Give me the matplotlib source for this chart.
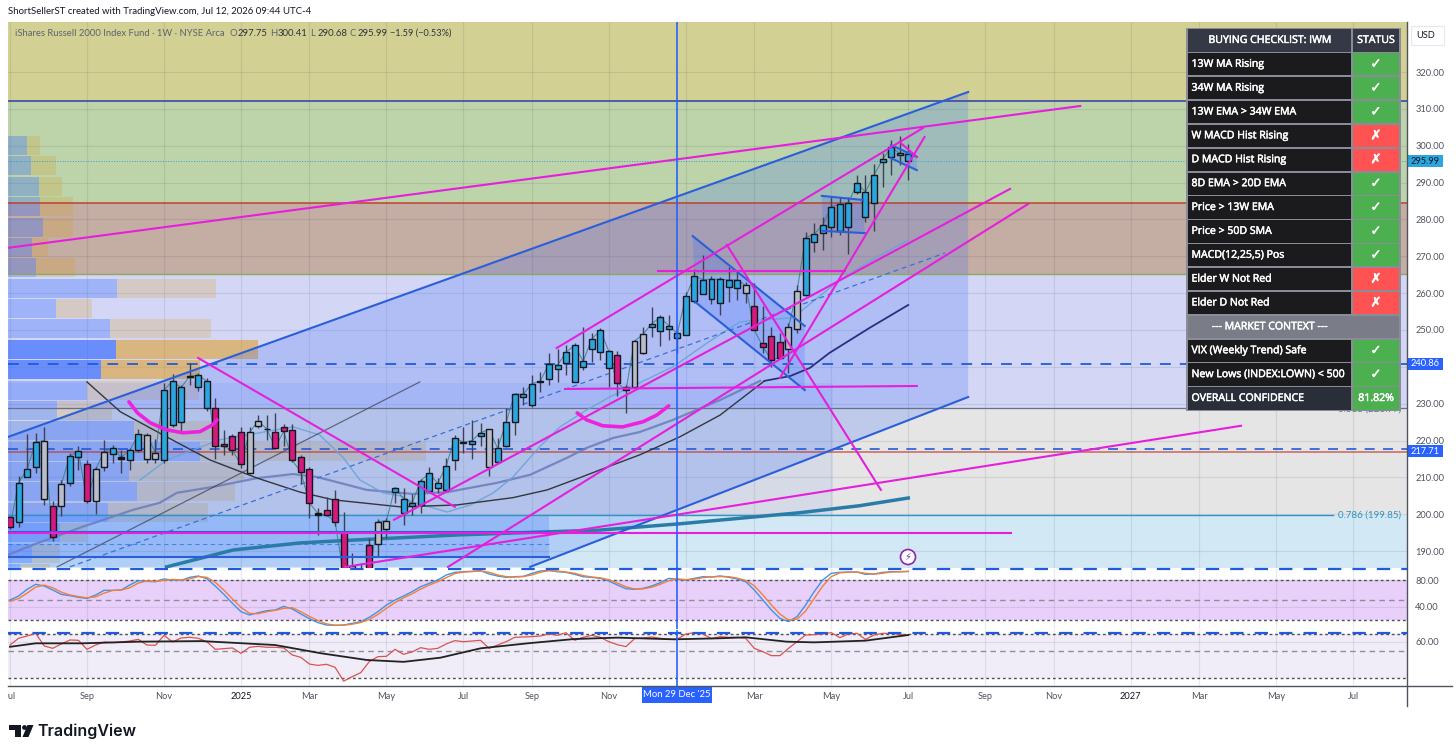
import numpy as np
import matplotlib
matplotlib.use("Agg")
import matplotlib.pyplot as plt
import matplotlib.patheffects as pe
from matplotlib.patches import Polygon, Rectangle, Circle
from matplotlib.ticker import NullLocator

# ---------- weekly candles (ETF price) ----------
body_top = [199.2,208.6,212.2,219.6,220,202.1,208.2,215.8,217.1,213.5,212.2,216.9,217.9,215.5,217.3,221.7,221.4,216.7,233.7,236.1,
            234.4,237.4,237.8,236.1,228.8,219.1,221.1,222.2,222.2,225.3,223.2,222.4,223.8,222.8,215.5,212.2,200.2,201.2,204.2,195.1,
            186,185,191.7,198,198.2,207.2,204.2,203,209.1,211.1,208.4,213.2,220.8,219.5,220,222.1,223,217.9,225,232.6,
            232.6,235.4,236.1,240.9,240.4,244,245.8,241.5,247.5,249.9,244.2,243.1,234.4,247,248.8,251.7,253.4,251.2,249.1,259.1,
            264.6,263.7,263.8,263.8,263.6,263.6,262.1,256.6,246.4,248.5,246.7,250.7,260.6,275.1,276,278.5,283.5,284.1,284.4,289.8,
            287.5,292.1,296.3,299.6,298,297.75]
body_bot = [196.6,198,210.2,212.9,204.2,193.7,202.3,208.4,215.4,203.5,203.7,212.9,216.3,215.1,214.7,217.4,214.9,214.9,214.6,224.1,
            225,237.2,234.4,228.8,218.6,218.4,217.3,213.5,211.3,224,223,218.1,222.5,214.6,211.4,203,199.8,199.7,198,183.5,
            183.5,183.6,184,191.8,196,206.1,200.3,202.3,202.6,206.4,207,206.6,214.7,219.4,219,221.2,212.8,214.3,218.4,225,
            231.7,229.6,236,236.6,239.5,241,236,239.9,244.8,244.1,239.8,235.7,233.6,234.4,243.7,250.7,249.6,250.3,247.7,248.7,
            258,259.9,258.3,257.4,261.8,261.3,260.1,250,245.5,241.9,242.5,244.8,250.3,259.5,273.9,276.2,277.9,276.9,277.9,287.5,
            280.8,284.6,295.5,297,297.5,295.99]
highs = [199.5,210.4,221.9,222,223.8,203.7,209.3,216.5,218.4,214.6,212.9,220.2,218.8,217.4,217.9,223,222,220.3,235.5,238.1,
         235.1,241,238.2,236.9,231.5,222.9,221.8,223.6,223.6,227,227,227.4,224.5,224.5,216.1,212.9,201.6,204.8,206.6,200.7,
         189.5,186.7,193.5,198.6,198.9,207.5,207,205.5,209.5,212.9,209.7,215.2,221.5,223.8,225.6,224.7,223,220.6,228.8,233,
         234.6,237.8,238.7,243.7,244.8,245.9,246.6,250.7,249.1,250.5,244.6,244.4,235,247.3,250.7,256.2,254.1,254.1,250,260.4,
         266.5,270.4,264.7,264.5,267.2,265.8,263.1,262.7,256.5,250.9,249.1,251.8,262.2,276.7,279,280.7,286.2,286.2,286.2,292.1,
         292.1,295,298,301.6,302.6,300.41]
lows = [196,196.5,210,211.1,202.5,192.6,199.5,207.7,212,203,200.1,211.6,213.8,211.1,212,217,213.8,213.8,214,223.8,
        222,235,233.5,227.9,214.9,216.1,216.1,212.5,211,223.3,220.2,217.6,218.5,214.3,208.2,198.9,194.4,199.5,196.8,183,
        183,183,183.5,188.5,193.5,203,197.1,199.8,200.3,205.9,205.7,205.9,212,216.5,214.9,218.4,210.4,214.2,218.2,221.5,
        229.7,229.2,233.3,235.1,236,237.8,236,239.2,241.4,241.9,234.6,232,227.4,234.2,243.5,248.2,245.7,247.3,243.7,248.6,
        257.4,259.8,257,254.1,257.7,258.1,257.2,250,243.7,240,242,238.3,249.1,259.2,271.3,271.7,275.3,275.8,270.5,286.9,
        279.4,276.9,288.9,292.1,294.8,290.68]
impulse = list("mbbbgmgbbm" "ggbkbbggbb" "bkbbmmmmgg" "kmmmmmkmmm" "gmmggbbbbb"
               "bbbkbbgbbb" "bbkbbbbbbb" "bmmggbbbbb" "bbbbbbgmmm" "mggbbbbbbb" "bbbbbb")

# ---------- moving averages: (bar, price) readings ----------
ma_black_x = [9,12.9,18.3,23.4,28.9,33.9,37.8,45.6,52.2,58.8,62.8,66.6,70.5,73.6,78.3,83,88.2]
ma_black_y = [235.9,227.8,221,214.7,209.8,206,203.9,202,202.5,204.5,206.6,209.9,213.4,216.1,221,226.9,236.2]
ma_navy_x = [88.2,91.2,93.5,95.8,100.5,105]
ma_navy_y = [236.2,237.5,239.7,243.8,250.6,256.8]
ma_slow_x = [-0.2,2.7,8.5,14.4,17.5,19.5,23.7,28.9,33.1,35.9,41.7,45.6,47.1,51.1,56.9,60.8,65.1,67.4,70.5,73.6,77.5,83,87.7]
ma_slow_y = [189,191.7,196.6,201.2,203.1,205.8,207.4,209.8,210.9,210.1,206.6,205.8,205.5,206,208.5,210.7,215.3,218,220.7,222.3,225.6,231,236.2]
ma_fast_x = [15.2,18.3,24.5,33.1,36.2,38.9,40.9,43.6,45.6,47.1,51.1,53.8,56.5,58.8,61.9,64.3,67.4,70.1,77.5,81.5,85.3,87.7,91.5,97,101.1,105]
ma_fast_y = [209.3,214.7,220.2,223.7,221.5,215.5,209.3,205.8,205,203.3,200.6,202.5,205.8,210.1,218.3,223.7,228.3,231.8,240,246.5,252.2,252.7,253.3,263.6,269.5,274.4]
ma_long_x = [18.3,26.1,33.9,38.6,52.6,69,78.3,92.3,99.3,105]
ma_long_y = [185.7,190.3,192.2,192.8,194.4,195.7,197.4,200.4,202.3,204.4]

# ---------- hand drawings: ((bar, price), (bar, price)) ----------
magenta_lines = [((-0.2,272.3),(125.1,310.8)), ((63.9,245.1),(106.7,304.8)), ((83.8,273.1),(101.8,206.6)),
                 ((22,242.4),(52,202)), ((44.9,198.5),(116.9,288.3)), ((51.2,185.7),(119,284.2)),
                 ((90,237),(106.9,302.4)), ((75.7,266),(97.6,266)), ((64.9,234),(106,234.8)),
                 ((39.2,185.7),(143.9,224)), ((-0.2,194.9),(117,194.9)), ((104,301),(106,297))]
blue_lines = [((-0.2,221),(112,314.6)), ((60.8,185.7),(112,231.8)), ((-0.2,195.2),(63,195.2)), ((-0.2,188.4),(63,188.4)),
              ((79.8,275.5),(92.9,251.1)), ((80.1,257.6),(92.9,233.7)), ((94.9,286.4),(99.7,285.3)), ((95,276.9),(99.9,276.3)),
              ((103,300.2),(106,297)), ((103,296.6),(106,293.4))]
channel_poly = [(-0.2,221),(112,314.6),(112,231.8),(60.8,185.7),(-0.2,185.7)]
flag_polys = [[(79.8,275.5),(92.9,251.1),(92.9,233.7),(80.1,257.6)],
              [(94.9,286.4),(99.7,285.3),(99.9,276.3),(95,276.9)],
              [(103,300.2),(106,297),(106,293.4),(103,296.6)]]
arc1_x = [13.9,14.9,16.4,18.3,20.2,22.2,23.7,24.2]
arc1_y = [230.5,227.5,224.8,222.9,222.1,222.4,224.3,225.6]
arc2_x = [66.3,67.4,69.3,71.6,74,75.6,77]
arc2_y = [227.5,225.6,224,223.7,225.1,226.9,229.4]
grey_channel = ((5.5,185.7),(47.9,235.9))
dashed_mid = ((7,185.7),(109.3,270.9))

# ---------- price zones and levels ----------
zone_edges = [333.6,312.1,284.5,265.2,228.8,199.85,185.4]
zone_colors = ["#d3d093","#bdd3aa","#c4ada3","#d3d6f5","#e5e5e5","#d2e9f5"]
price_ticks = [320,310,300,290,280,270,260,250,240,230,220,210,200,190]

# ---------- volume profile ----------
vp_up = [19,23,31,32,35,24,28,109,48,102,108,93,79,49,126,192,121,129,100,52,24,12]
vp_down = [13,25,23,33,30,16,39,99,36,101,142,99,112,55,86,226,116,98,100,27,28,30]
vp_strong = [10,11]

# ---------- oscillators ----------
stoch_k = [50.3,56.3,66.1,73.6,71.1,65.2,58.7,56.8,54.3,52.8,57.7,64.7,64.7,65.2,72.6,79,78,77.5,81.5,80,79.5,83.9,85.9,82,71.1,58.7,45.4,33.1,28.1,31.6,34.5,35.5,41,37,29.6,22.7,16.8,13.3,12.8,13.3,15.8,18.2,24.7,33.1,42.9,50.3,56.3,62.7,70.1,75,80,87.4,91.3,92.3,92.8,93.8,88.9,85.9,83.9,84.9,85.4,89.8,93.3,94.3,92.3,91.3,88.4,84.9,83.9,82.4,78.5,72.6,67.1,66.1,67.6,71.1,76,82.4,81,80,82.4,84.9,84.4,86,84,81.5,77.5,65.2,50.4,35.5,23.2,18.3,25.7,42.9,62.7,80,89.9,91.3,91.8,91.8,88.4,88.9,91.3,92.3,92.3,92.8]
stoch_d = [48.5,52.5,60.5,69.5,72.5,68.5,62,57.8,55.5,53.6,55,60.5,64.5,65,68.5,75.5,78.5,77.8,79.5,80.8,79.8,81.5,85,84,76.5,65,52,39.5,30.5,30,33,35,38,39,33,26,19.8,15,13,13,14.5,17,21.5,29,38,46.5,53.5,59.5,66.5,72.5,77.5,83.5,89.5,91.8,92.5,93.3,91.5,87.5,85,84.4,85.1,87.5,91.5,93.8,93.3,91.8,90,86.5,84.5,83.2,80.5,75.5,70,66.6,66.8,69.3,73.5,79,81.7,80.5,81.2,83.5,84.6,85.2,85,82.8,79.5,71.5,58,43,29.5,20.8,22,34,52.5,71,85,90.6,91.5,91.8,90,88.6,90,91.8,92.3,92.5]
rsi = [56.5,64.4,67.3,70.9,55.5,53,57.7,62.3,61.9,52,56.5,59.9,59.2,59.9,61.1,63.1,56.5,56.2,68.2,59.9,64.8,65.6,64.4,60.3,52,52.7,53.4,48.1,54.1,55.1,54.1,54.1,53.4,46.6,44.5,39.1,38.1,38.9,36.7,28.1,30.6,33.1,41,45.1,45.4,52,47.2,49.4,53.7,52,53,57.7,61.5,60.3,61.1,61.9,53,56.5,60.3,65.6,66,66.5,67.3,70,68.2,71.8,61.9,65.6,68.2,65.6,60.3,56.9,54.8,63.9,64.8,66,64.4,63.1,63.1,70,71.8,70,63.9,66.5,65.6,65.6,64.4,53,49.7,46,46,53,60.3,68.6,69.1,70,71.8,65.2,70,70.9,63.1,68.6,70.9,70.9,69.5,68.2]
rsi_ma_x = [0,3,8.5,15,22.4,31,36.4,41.7,46,50.3,55,60.5,66,71,77.6,83,86,90.8,94,100,105]
rsi_ma_y = [54.6,58.4,58.4,60.3,61,56.5,48.1,42.3,40.8,44.2,53,58.4,63.5,65.2,63.1,64.4,65.6,60.3,59.5,61.5,68.6]

# ---------- time axis ----------
tick_bars = [0,9,18,27,35,44,53,61,70,79,87,96,105,114,122,131,139,148,157]
tick_text = ["Jul","Sep","Nov","2025","Mar","May","Jul","Sep","Nov","","Mar","May","Jul","Sep","Nov","2027","Mar","May","Jul"]
cursor_bar = 78

# ---------- checklist table ----------
table_title = ["BUYING CHECKLIST: IWM","STATUS"]
table_names = ["13W MA Rising","34W MA Rising","13W EMA > 34W EMA","W MACD Hist Rising","D MACD Hist Rising","8D EMA > 20D EMA",
               "Price > 13W EMA","Price > 50D SMA","MACD(12,25,5) Pos","Elder W Not Red","Elder D Not Red",
               "--- MARKET CONTEXT ---","VIX (Weekly Trend) Safe","New Lows (INDEX:LOWN) < 500","OVERALL CONFIDENCE"]
table_pass = [1,1,1,0,0,1,1,1,1,0,0,None,1,1,1]
overall = "81.82%"

# ---------- layout ----------
W, H = 1456, 755
FONT = ["Lato","DejaVu Sans"]
TFONT = ["Open Sans","DejaVu Sans"]
plt.rcParams["font.family"] = FONT
fig = plt.figure(figsize=(W/100, H/100), dpi=100, facecolor="white")
def box(l, t, r, b):
    return fig.add_axes([l/W, 1-b/H, (r-l)/W, (b-t)/H])
ax = box(8, 22, 1407, 568)
p1 = box(8, 569, 1407, 629)
p2 = box(8, 630, 1407, 685.5)
XL = (-0.234, 163.3)
GRID = dict(color="#2a3550", alpha=0.10, lw=0.9)
bars = np.arange(len(body_top))
MAG, BLU = "#e61fdc", "#2b5fd9"
TICKFS = 6.7
FAUX = [pe.withStroke(linewidth=0.35, foreground="white")]

# zones
for lo_edge, hi_edge, c in zip(zone_edges[1:], zone_edges[:-1], zone_colors):
    ax.axhspan(lo_edge, hi_edge, color=c, lw=0, zorder=0)
ax.set_xlim(XL); ax.set_ylim(zone_edges[-1], zone_edges[0])
ax.set_xticks(tick_bars); ax.set_yticks(price_ticks)
ax.grid(True, **GRID); ax.set_axisbelow(True)
ax.set_xticklabels([])
ax.tick_params(axis="x", length=0)
ax.yaxis.tick_right()
ax.set_yticklabels([("" if v == 240 else f"{v:.2f}") for v in price_ticks], fontsize=TICKFS, color="#50535e")
ax.tick_params(axis="y", length=0, pad=6)
for s in ax.spines.values(): s.set_visible(False)

# volume profile
row_h = 5.53
row_c = 300.06 - row_h*np.arange(len(vp_up))
bars_per_unit = 1/8.556
for k, (u, d, c) in enumerate(zip(vp_up, vp_down, row_c)):
    strong = k in vp_strong
    ax.barh(c, u*bars_per_unit, left=XL[0], height=row_h*0.93, color="#2962ff", alpha=0.62 if strong else 0.30, lw=0, zorder=1.5)
    ax.barh(c, d*bars_per_unit, left=XL[0]+u*bars_per_unit, height=row_h*0.93, color="#e0960a", alpha=0.5 if strong else 0.20, lw=0, zorder=1.5)
ax.add_patch(Rectangle((XL[0], 199.85), 96.2-XL[0], 235.5-199.85, color="#2962ff", alpha=0.08, lw=0, zorder=1.6))
ax.add_patch(Rectangle((XL[0], 188.4), 63-XL[0], 199.85-188.4, color="#2962ff", alpha=0.20, lw=0, zorder=1.6))

# channels and flags
ax.add_patch(Polygon(channel_poly, closed=True, color="#2962ff", alpha=0.20, lw=0, zorder=2))
for pg in flag_polys:
    ax.add_patch(Polygon(pg, closed=True, color="#2962ff", alpha=0.20, lw=0, zorder=2))

# levels
ax.axhline(312.1, color="#2b3fa8", lw=1.1, zorder=2.5)
ax.axhline(284.5, color="#c0392b", lw=1.3, alpha=0.8, zorder=2.5)
ax.axhline(265.2, color="#8fa860", lw=1.0, zorder=2.5)
ax.axhline(240.86, color="#1f5bdc", lw=1.3, ls=(0, (6, 5)), zorder=2.5)
ax.axhline(228.8, color="#687089", lw=0.9, zorder=2.5)
ax.axhline(217.71, color="#1f5bdc", lw=1.2, ls=(0, (6, 5)), zorder=2.5)
ax.axhline(216.9, color="#c0392b", lw=1.1, alpha=0.75, zorder=2.5)
ax.plot([XL[0], 154.7], [199.85, 199.85], color="#2f93c4", lw=1.0, zorder=2.5)
ax.plot([XL[0], 63], [192.0, 192.0], color="#3a74dd", lw=0.8, ls=(0, (4, 3)), alpha=0.8, zorder=2.5)
ax.axhline(295.99, color="#2f9fd0", lw=0.7, ls=":", zorder=2.5)
ax.text(155.2, 199.85, "0.786 (199.85)", color="#2f93c4", fontsize=7.0, va="center", ha="left", zorder=3)
ax.text(162.6, 228.6, "0.618 (228.77)", color="#687089", fontsize=7.0, va="center", ha="right", zorder=3)

# moving averages
ax.plot(ma_long_x, ma_long_y, color="#2a7ba6", lw=2.5, zorder=3)
ax.plot(ma_slow_x, ma_slow_y, color="#6f7fbc", lw=1.6, alpha=0.9, zorder=3)
ax.plot(ma_fast_x, ma_fast_y, color="#6aa3d8", lw=1.0, alpha=0.9, zorder=3)
ax.plot(ma_black_x, ma_black_y, color="#33363f", lw=1.0, zorder=3)
ax.plot(ma_navy_x, ma_navy_y, color="#28307e", lw=1.3, zorder=3)
(xa, ya), (xb, yb) = grey_channel
ax.plot([xa, xb], [ya, yb], color="#3b3f4d", lw=0.9, alpha=0.7, zorder=3)
(xa, ya), (xb, yb) = dashed_mid
ax.plot([xa, xb], [ya, yb], color="#3a6fdc", lw=0.9, ls=(0, (4, 3)), zorder=3)

# candles
colors = {"b": "#2ba6de", "m": "#d6197f", "g": "#b9bdc9", "k": "#111111"}
closes = [b if s == "m" else t for t, b, s in zip(body_top, body_bot, impulse)]
ax.plot(bars, closes, color="#2f7f86", lw=0.8, alpha=0.8, zorder=3.5)
ax.vlines(bars, lows, highs, color="#3e4250", lw=1.0, zorder=4)
ax.bar(bars, np.array(body_top)-np.array(body_bot), bottom=body_bot, width=0.7,
       color=[colors[s] for s in impulse], edgecolor="#15171c", lw=1.0, zorder=4.2)

# drawings
for (xa, ya), (xb, yb) in blue_lines:
    ax.plot([xa, xb], [ya, yb], color=BLU, lw=1.5, zorder=5)
for (xa, ya), (xb, yb) in magenta_lines:
    ax.plot([xa, xb], [ya, yb], color=MAG, lw=1.5, zorder=5.2)
ax.plot(arc1_x, arc1_y, color="#ee22dd", lw=2.6, zorder=5.3, solid_capstyle="round")
ax.plot(arc2_x, arc2_y, color="#ee22dd", lw=2.6, zorder=5.3, solid_capstyle="round")
ax.axvline(cursor_bar, color="#2962ff", lw=1.2, zorder=6)

# oscillator 1
p1.set_xlim(XL); p1.set_ylim(7.4, 96.3)
p1.axhspan(20, 80, color="#e9d0fb", lw=0, zorder=0)
p1.set_xticks(tick_bars); p1.set_yticks([80, 40])
p1.grid(True, **GRID); p1.set_axisbelow(True)
p1.set_xticklabels([])
p1.yaxis.tick_right(); p1.set_yticklabels(["80.00", "40.00"], fontsize=TICKFS, color="#50535e")
p1.tick_params(length=0); p1.tick_params(axis="y", pad=6)
for v, ls in ((80, (0, (2, 2))), (20, (0, (2, 2))), (50, (0, (4, 3)))):
    p1.axhline(v, color="#4d4f59" if v != 50 else "#8e8f9a", lw=1.0, ls=ls, zorder=1.5)
p1.plot(np.arange(len(stoch_k)), stoch_k, color="#3f95e0", lw=1.0, zorder=3)
p1.plot(np.arange(len(stoch_d)), stoch_d, color="#f0803c", lw=1.0, zorder=3)
p1.axhline(95.6, color="#1f5bdc", lw=1.6, ls=(0, (6, 5)), clip_on=False, zorder=6)
p1.axvline(cursor_bar, color="#2962ff", lw=1.2, zorder=6)
for s in p1.spines.values(): s.set_visible(False)

# oscillator 2 (log scale pane)
p2.set_yscale("log")
p2.set_xlim(XL); p2.set_ylim(25.8, 75.6)
p2.axhspan(30, 70, color="#f1edf8", lw=0, zorder=0)
p2.set_xticks(tick_bars); p2.set_xticklabels(tick_text, fontsize=TICKFS, color="#50535e")
p2.set_yticks([60]); p2.set_yticklabels(["60.00"], fontsize=TICKFS, color="#50535e")
p2.yaxis.set_minor_locator(NullLocator())
p2.yaxis.tick_right()
p2.grid(True, **GRID); p2.set_axisbelow(True)
p2.tick_params(length=0); p2.tick_params(axis="y", pad=6); p2.tick_params(axis="x", pad=5)
for lab in p2.get_xticklabels():
    if lab.get_text().startswith("20"):
        lab.set_color("#131722")
for v, ls in ((70, (0, (2, 2))), (30, (0, (2, 2))), (50, (0, (4, 3)))):
    p2.axhline(v, color="#4d4f59" if v != 50 else "#8e8f9a", lw=1.0, ls=ls, zorder=1.5)
p2.plot(np.arange(len(rsi)), rsi, color="#d9534f", lw=0.9, zorder=3)
p2.plot(rsi_ma_x, rsi_ma_y, color="#222222", lw=1.3, zorder=3.2)
p2.axhline(71.8, color="#1f5bdc", lw=1.6, ls=(0, (6, 5)), zorder=6)
p2.axvline(cursor_bar, color="#2962ff", lw=1.2, zorder=6)
for s in p2.spines.values(): s.set_visible(False)

# ---------- overlay in pixels ----------
ov = fig.add_axes([0, 0, 1, 1], zorder=10)
ov.set_xlim(0, W); ov.set_ylim(H, 0); ov.axis("off"); ov.patch.set_visible(False)
ov.add_patch(Rectangle((0, 686), 8, 20, color="white", lw=0))
ov.plot([8, 1452], [686, 686], color="#50535e", lw=1.0)
ov.plot([1407, 1407], [22, 706], color="#50535e", lw=1.0)
ov.text(8, 12, "ShortSellerST created with TradingView.com, Jul 12, 2026 09:44 UTC-4", fontsize=6.95, color="#131722", va="center")
ov.text(15, 33, "iShares Russell 2000 Index Fund · 1W · NYSE Arca", fontsize=6.8, color="#5d6470", va="center")
for x, a, b in ((230, "O", "297.75"), (270, "H", "300.41"), (310, "L", "290.68"), (350, "C", "295.99")):
    ov.text(x, 33, a, fontsize=6.8, color="#5d6470", va="center")
    ov.text(x+7.5, 33, b, fontsize=6.8, color="#2d3340", va="center")
ov.text(390, 33, "−1.59 (−0.53%)", fontsize=6.6, color="#2d3340", va="center")

# table
tx0, tx1, tx2, ty0, rh = 1187, 1352, 1400, 28.5, 23.87
ov.add_patch(Rectangle((tx0-1, ty0-1), tx2-tx0+2, rh*(len(table_names)+1)+2, color="#8a8d97", lw=0))
def cell(x0, x1, row, color):
    ov.add_patch(Rectangle((x0+0.8, ty0+row*rh+0.8), x1-x0-1.6, rh-1.6, color=color, lw=0))
cell(tx0, tx1, 0, "#353945"); cell(tx1, tx2, 0, "#353945")
ov.text((tx0+tx1)/2, ty0+rh/2, table_title[0], color="white", fontsize=7.6, ha="center", va="center", family=TFONT, path_effects=FAUX)
ov.text((tx1+tx2)/2, ty0+rh/2, table_title[1], color="white", fontsize=7.6, ha="center", va="center", family=TFONT, path_effects=FAUX)
for r, (nm, ok) in enumerate(zip(table_names, table_pass), start=1):
    yc = ty0+r*rh+rh/2
    if ok is None:
        cell(tx0, tx2, r, "#7a7d88")
        ov.text((tx0+tx1)/2, yc, nm, color="white", fontsize=7.6, ha="center", va="center", family=TFONT, path_effects=FAUX)
        continue
    last = r == len(table_names)
    cell(tx0, tx1, r, "#2a2e39" if last else "#1b1b1e")
    cell(tx1, tx2, r, "#4caf50" if ok else "#ff5252")
    ov.text(tx0+4.5, yc, nm, color="white", fontsize=7.6, va="center", family=TFONT, path_effects=FAUX)
    ov.text((tx1+tx2)/2, yc, overall if last else ("✓" if ok else "✗"), color="white",
            fontsize=7.6 if last else 9.5, ha="center", va="center", path_effects=FAUX,
            family=TFONT if last else ["DejaVu Sans"])

# price tags and USD button
for yc, lab, bg, fg in ((161, "295.99", "#2ba6de", "#131722"), (364, "240.86", "#2962ff", "white"), (451, "217.71", "#2962ff", "white")):
    ov.add_patch(Rectangle((1408, yc-6), 35, 12, color=bg, lw=0))
    ov.text(1425.5, yc, lab, color=fg, fontsize=TICKFS, ha="center", va="center")
ov.add_patch(Rectangle((1411, 26), 33, 19, fc="white", ec="#e6e7ea", lw=0.8))
ov.text(1425.5, 35.5, "USD", color="#131722", fontsize=TICKFS, ha="center", va="center")

# cursor date
ov.add_patch(Rectangle((642, 686), 70, 17, color="#2962ff", lw=0))
ov.text(677, 694.5, "Mon 29 Dec '25", color="white", fontsize=6.8, ha="center", va="center")

# lightning marker
ov.add_patch(Circle((908, 557), 7.5, fc="white", ec="#8e24aa", lw=1.2))
ov.text(908, 557, "⚡", color="#8e24aa", fontsize=7, ha="center", va="center", family=["DejaVu Sans"])

# logo
ov.add_patch(Polygon([(9,725),(21,725),(21,737),(15,737),(15,730),(9,730)], closed=True, color="#131722", lw=0))
ov.add_patch(Circle((24.5,727.5), 2.4, color="#131722", lw=0))
ov.add_patch(Polygon([(27.5,725),(33.5,725),(28.5,737),(22.5,737)], closed=True, color="#131722", lw=0))
ov.text(37, 731, "TradingView", fontsize=11.5, color="#131722", va="center", fontweight="semibold", family=["Inter","DejaVu Sans"])

fig.savefig("out.png", dpi=100)
